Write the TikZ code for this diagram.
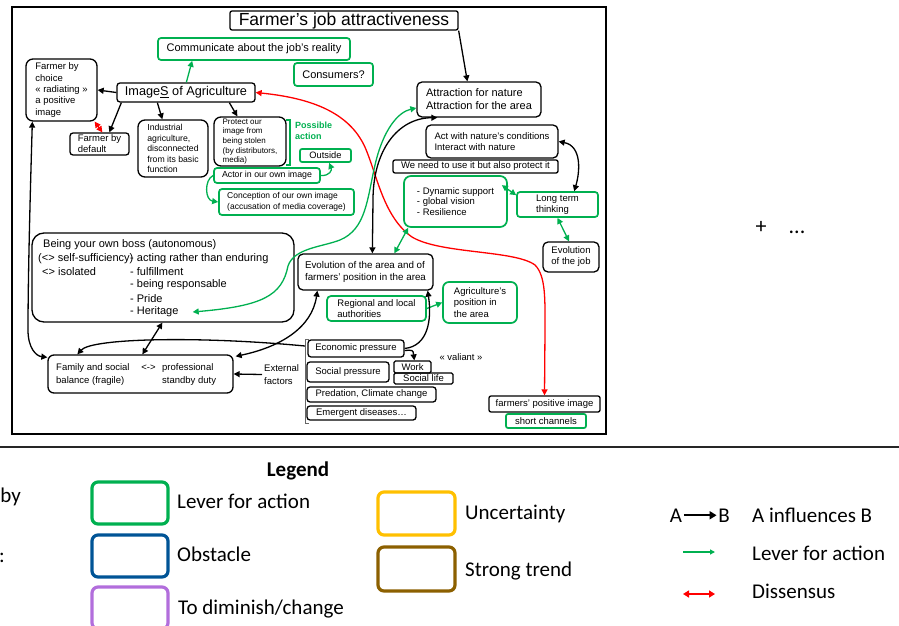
\documentclass[tikz,border=0pt]{standalone}
\usepackage{fontspec}
\setmainfont{Liberation Sans}
\newfontfamily\calfont{Carlito}
\usetikzlibrary{arrows.meta}
\definecolor{leverg}{RGB}{0,176,80}
\definecolor{obstb}{RGB}{0,84,150}
\definecolor{purp}{RGB}{178,110,220}
\definecolor{yel}{RGB}{255,192,0}
\definecolor{brn}{RGB}{140,96,0}
\definecolor{redd}{RGB}{255,0,0}
\newcommand\fsz[2]{\fontsize{#1}{#2}\selectfont}
\begin{document}
\begin{tikzpicture}[x=1pt,y=-1pt,
  bx/.style={draw=black, line width=1.3pt, rounded corners=3pt, inner sep=0pt, align=center, font=\fsz{9.5}{11}},
  gbx/.style={bx, draw=leverg, line width=1.7pt},
  sz/.style 2 args={minimum width=#1, minimum height=#2},
  lt/.style n args={3}{minimum width=#2+2*#1, minimum height=#3, align=left},
  txt/.style={inner sep=0pt, anchor=west, align=left},
  arr/.style={-{Triangle[length=6pt,width=6pt]}, line width=1.3pt},
  darr/.style={{Triangle[length=6pt,width=6pt]}-{Triangle[length=6pt,width=6pt]}, line width=1.3pt},
  garr/.style={arr, draw=leverg},
  gdarr/.style={darr, draw=leverg},
  rdarr/.style={darr, draw=redd},
  lgbox/.style={draw=#1, line width=3.2pt, rounded corners=6pt, minimum width=76pt, minimum height=42pt},
  lgtxt/.style={font=\calfont\fsz{21}{25}, anchor=base west, inner sep=0pt}
]
\useasboundingbox (0,0) rectangle (899,626);
% frame
\draw[line width=1.6pt] (12,7) rectangle (606,434);
\draw[line width=1.2pt, black!85] (0,447) -- (899,447);

% ---- top nodes
\node[bx, sz={228pt}{19pt}, rounded corners=2pt, font=\fsz{17.5}{20}] (title) at (344,20.5) {Farmer’s job attractiveness};
\node[gbx, sz={192pt}{22pt}, font=\fsz{11}{13}] (comm) at (254,49) {Communicate about the job’s reality};
\node[gbx, sz={79pt}{23pt}, font=\fsz{11}{13}] (cons) at (333.5,74.5) {Consumers?};
\node[bx, lt={8pt}{55pt}{62pt}, rounded corners=7pt, font=\fsz{9.5}{11.3}] (choice) at (61.5,90) {Farmer by\\choice\\« radiating »\\a positive\\image};
\node[bx, sz={138pt}{19pt}, font=\fsz{12.7}{15}] (imgs) at (186,92.5) {Image\underline{S} of Agriculture};
\node[bx, lt={7pt}{45pt}{22pt}] (default) at (99.5,144) {Farmer by\\default};
\node[bx, lt={8pt}{54pt}{57pt}, rounded corners=7pt, font=\fsz{8.7}{10.4}] (indus) at (173,148.5) {Industrial\\agriculture,\\disconnected\\from its basic\\function};
\node[bx, lt={8pt}{56pt}{49pt}, rounded corners=7pt, font=\fsz{8}{9.6}] (protect) at (250,141.5) {Protect our\\image from\\being stolen\\(by distributors,\\media)};
\draw[leverg, line width=1.3pt] (286,120) -- (290,120) -- (290,165) -- (286,165);
\node[txt, anchor=north west, text=leverg, font=\bfseries\fsz{9}{11}] (poss) at (295,122) {Possible\\action};
\node[gbx, sz={51pt}{13pt}, rounded corners=2pt, font=\fsz{9.3}{11}] (outside) at (325.5,155.5) {Outside};
\node[gbx, sz={106pt}{15pt}, font=\fsz{8.8}{10}] (actor) at (267,175.5) {Actor in our own image};
\node[gbx, lt={8pt}{119pt}{26pt}, font=\fsz{8.5}{10.5}] (concep) at (286.5,202) {Conception of our own image\\(accusation of media coverage)};

% ---- right side
\node[bx, lt={8pt}{108pt}{35pt}, rounded corners=5pt, font=\fsz{11}{13}] (attr) at (479,99.5) {Attraction for nature\\Attraction for the area};
\node[bx, lt={8pt}{116pt}{33pt}, rounded corners=5pt] (act) at (492,141.5) {Act with nature’s conditions\\Interact with nature};
\node[bx, sz={165pt}{13pt}, rounded corners=2pt] (need) at (475.5,166.5) {We need to use it but also protect it};
\node[gbx, lt={9pt}{85pt}{51pt}, rounded corners=7pt, font=\fsz{9.5}{10.8}] (dyn) at (455.5,201.5) {- Dynamic support\\- global vision\\- Resilience};
\node[gbx, lt={7pt}{67pt}{25pt}] (longt) at (557.5,204.5) {Long term\\thinking};
\node[bx, sz={56pt}{30pt}, rounded corners=5pt] (evjob) at (571,257) {Evolution\\of the job};
\node[bx, lt={9pt}{117pt}{36pt}, rounded corners=5pt, font=\fsz{9.8}{11.5}] (evarea) at (365.5,272) {Evolution of the area and of\\farmers’ position in the area};
\node[gbx, lt={9pt}{81pt}{25pt}, rounded corners=4pt] (region) at (376.5,308.5) {Regional and local\\authorities};
\node[gbx, lt={10pt}{54pt}{41pt}, rounded corners=6pt, font=\fsz{9.5}{11.3}] (agripos) at (480,302.5) {Agriculture’s\\position in\\the area};

% ---- boss box
\node[bx, sz={262pt}{89pt}, rounded corners=12pt] (boss) at (163,277.5) {};
\node[txt, font=\fsz{11}{13}] (b1) at (43,245) {Being your own boss (autonomous)};
\node[txt, font=\fsz{11}{13}] (b2) at (38,258.5) {(<> self-sufficiency)};
\node[txt, font=\fsz{11}{13}] (b3) at (42,272) {<> isolated};
\node[txt, font=\fsz{11}{13}] (b4) at (130,258.5) {- acting rather than enduring};
\node[txt, font=\fsz{11}{13}] (b5) at (130,272) {- fulfillment};
\node[txt, font=\fsz{11}{13}] (b6) at (130,285) {- being responsable};
\node[txt, font=\fsz{11}{13}] (b7) at (130,298.5) {- Pride};
\node[txt, font=\fsz{11}{13}] (herit) at (130,312) {- Heritage};

% ---- family box
\node[bx, sz={185pt}{38pt}, rounded corners=6pt] (family) at (140.5,374) {};
\node[txt, font=\fsz{9.5}{13}] (fam1) at (56,374.5) {Family and social\\balance (fragile)};
\node[inner sep=0pt, font=\fsz{9.5}{11}] (fam2) at (148.5,368) {<->};
\node[txt, font=\fsz{9.5}{13}] (fam3) at (162,374.5) {professional\\standby duty};
\node[txt, font=\fsz{9.5}{13}] (ext) at (264,374.5) {External\\factors};

% ---- external factors list
\coordinate (brk) at (305,346);
\draw[black!60, line width=1pt] (309,339) -- (305,339) -- (305,423) -- (309,423);
\node[bx, sz={96pt}{17pt}] (econ) at (356,348.5) {Economic pressure};
\node[bx, sz={82pt}{20pt}] (social) at (348,372) {Social pressure};
\node[bx, sz={37pt}{12pt}, rounded corners=1.5pt] (work) at (412.5,367) {Work};
\node[bx, sz={59pt}{11pt}, rounded corners=1.5pt] (slife) at (423.5,378.5) {Social life};
\node[bx, sz={129pt}{15pt}] (pred) at (371.5,394.5) {Predation, Climate change};
\node[bx, sz={109pt}{14pt}] (emerg) at (361.5,413) {Emergent diseases…};
\node[inner sep=0pt, font=\fsz{9.4}{11}] (val) at (461,357) {« valiant »};
\node[bx, sz={111pt}{16pt}, rounded corners=2pt] (fpos) at (544.5,404) {farmers’ positive image};
\node[gbx, sz={80pt}{14pt}, rounded corners=2pt] (short) at (546,421) {short channels};

% ---- connectors
\draw[arr] (title.south east) -- ([xshift=51pt]attr.north west);
\draw[garr] ([xshift=70pt]imgs.north west) -- ([xshift=35pt]comm.south west);
\draw[arr] (imgs.west) -- (choice.east);
\draw[arr] ([xshift=5pt]imgs.south west) -- ([xshift=40pt]default.north west);
\draw[arr] ([xshift=41pt]imgs.south west) -- ([xshift=25pt]indus.north west);
\draw[arr] ([xshift=113pt]imgs.south west) -- ([xshift=24pt]protect.north west);
\draw[rdarr] ([xshift=-3pt]choice.south east) -- ([xshift=33pt]default.north west);
\draw[rdarr] (imgs.east) .. controls (310,98) and (352,112) .. (367,152) .. controls (378,180) and (385,218) .. (412,237) .. controls (440,254) and (515,250) .. (535,265) .. controls (546,276) and (545,300) .. (545,330) -- (fpos.north);
\draw[gdarr] ([xshift=14pt]herit.east) .. controls (262,306) and (282,296) .. (288,266) .. controls (294,248) and (322,247) .. (340,240) .. controls (366,229) and (367,200) .. (375,165) .. controls (383,130) and (398,112) .. ([yshift=-8.5pt]attr.west);
\draw[darr] ([xshift=21pt]attr.south west) .. controls (398,118) and (373,150) .. (373,200) -- ([xshift=75pt]evarea.north west);
\draw[darr] ([xshift=20pt]evarea.south west) .. controls (312,328) and (280,347) .. ([xshift=2pt,yshift=-2pt]family.north east);
\draw[arr] (brk) .. controls (200,336) and (92,338) .. ([xshift=30pt]family.north west);
\draw[arr] ([xshift=-2pt]ext.west) -- (family.east);
\draw[darr] ([xshift=131pt]boss.south west) -- ([xshift=95pt]family.north west);
\draw[darr] ([xshift=7pt]choice.south west) .. controls (30,200) and (28,280) .. (28,330) .. controls (28,348) and (36,356) .. ([yshift=-3pt]family.north west);
\draw[darr] (act.east) .. controls (582,146) and (580,172) .. ([xshift=58pt]longt.north west);
\draw[gdarr] ([xshift=-6pt,yshift=-10pt]dyn.north east) -- ([yshift=-4pt]longt.north west);
\draw[gdarr] (longt.south) -- ([xshift=-2pt]evjob.north);
\draw[gdarr] ([xshift=5pt]dyn.south west) -- ([xshift=97pt]evarea.north west);
\draw[garr] (region.east) -- (agripos.west);
\draw[arr] (econ.east) .. controls (428,346) and (432,320) .. ([xshift=-6pt]evarea.south east);
\draw[arr] ([yshift=-2pt]econ.east) .. controls (413,350) .. ([xshift=21pt]work.north west);
\draw[garr] (actor.east) .. controls (330,176) and (332,170) .. ([xshift=30pt]outside.south west);
\draw[garr] (actor.west) .. controls (204,180) and (205,200) .. (concep.west);

% ---- plus
\node[font=\calfont\fsz{22}{26}, anchor=base, inner sep=0pt] (plus) at (761,233) {+};
\node[font=\calfont\fsz{22}{26}, anchor=base, inner sep=0pt] (dots) at (797,233) {...};

% ---- legend
\node[font=\calfont\bfseries\fsz{21}{25}, anchor=base, inner sep=0pt] (leg) at (298,476) {Legend};
\node[lgbox=leverg] (lg1) at (130,503) {};
\node[lgbox=obstb] (lg2) at (130,556) {};
\node[lgbox=purp] (lg3) at (130,608) {};
\node[lgbox=yel, minimum width=77pt, minimum height=43pt] (lg4) at (416.5,513.5) {};
\node[lgbox=brn, minimum width=77pt, minimum height=44pt] (lg5) at (416.5,569) {};
\node[lgtxt] (t1) at (177,508) {Lever for action};
\node[lgtxt] (t2) at (177,561) {Obstacle};
\node[lgtxt] (t3) at (178,614) {To diminish/change};
\node[lgtxt] (t4) at (465,519) {Uncertainty};
\node[lgtxt] (t5) at (465,576) {Strong trend};
\node[font=\calfont\fsz{21}{25}, anchor=base, inner sep=1.5pt] (la) at (676,522) {A};
\node[font=\calfont\fsz{21}{25}, anchor=base, inner sep=1.5pt] (lb) at (724,522) {B};
\draw[line width=2.4pt, -{Triangle[length=7pt,width=8pt]}] (la.east) -- (lb.west);
\node[lgtxt] (t6) at (752,522) {A influences B};
\coordinate (ga) at (683,552);
\coordinate (gb) at (715,552);
\draw[line width=1.8pt, leverg, -{Triangle[length=5pt,width=5pt]}] (ga) -- (gb);
\node[lgtxt] (t7) at (752,560) {Lever for action};
\coordinate (ra) at (683,594);
\coordinate (rb) at (715,594);
\draw[line width=2.2pt, redd, {Triangle[length=6pt,width=7pt]}-{Triangle[length=6pt,width=7pt]}] (ra) -- (rb);
\node[lgtxt] (t8) at (752,598) {Dissensus};
\node[font=\calfont\fsz{21}{25}, anchor=base east, inner sep=0pt] (by) at (21,502) {by};
\node[font=\calfont\fsz{21}{25}, anchor=base east, inner sep=0pt] (colon) at (5,562) {:};
\end{tikzpicture}
\end{document}
